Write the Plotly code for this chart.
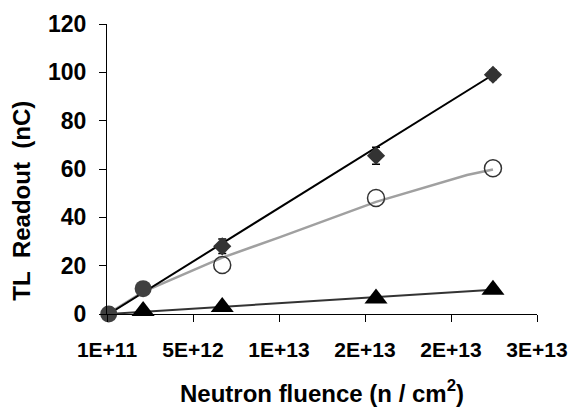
import plotly.graph_objects as go

# ---- data ----
fluence_diamond = [6.8e12, 1.574e13, 2.254e13]
tl_diamond = [28.0, 65.5, 99.0]
err_diamond = [3.0, 3.5, 2.0]

fluence_open = [6.8e12, 1.574e13, 2.254e13]
tl_open = [20.3, 48.0, 60.3]

fluence_tri = [2.2e12, 6.8e12, 1.574e13, 2.254e13]
tl_tri = [1.2, 2.9, 6.4, 10.0]

fluence_filled = [2e11, 2.2e12]
tl_filled = [0.0, 10.5]

# trend lines
black_trend_x = [2e11, 2.254e13]
black_trend_y = [0.0, 99.0]
tri_trend_x = [2e11, 2.254e13]
tri_trend_y = [0.0, 10.0]
gray_trend_x = [2e11, 2.2e12, 6.8e12, 1.016e13, 1.574e13, 1.847e13, 2.103e13, 2.254e13]
gray_trend_y = [0.3, 9.2, 23.3, 31.8, 46.4, 52.0, 57.5, 59.8]

x_tickvals = [1e11, 5.1e12, 1.01e13, 1.51e13, 2.01e13, 2.51e13]
x_ticktext = ["1E+11", "5E+12", "1E+13", "2E+13", "2E+13", "3E+13"]
y_tickvals = [0, 20, 40, 60, 80, 100, 120]

FONT = "Liberation Sans, Arial, sans-serif"

fig = go.Figure()

fig.add_trace(go.Scatter(x=gray_trend_x, y=gray_trend_y, mode="lines",
                         line=dict(color="#a0a0a0", width=2.5), showlegend=False))
fig.add_trace(go.Scatter(x=black_trend_x, y=black_trend_y, mode="lines",
                         line=dict(color="#000000", width=2), showlegend=False))
fig.add_trace(go.Scatter(x=tri_trend_x, y=tri_trend_y, mode="lines",
                         line=dict(color="#333333", width=2), showlegend=False))

fig.add_trace(go.Scatter(x=fluence_diamond, y=tl_diamond, mode="markers",
                         marker=dict(symbol="diamond", size=14, color="#333333"),
                         error_y=dict(type="data", array=err_diamond, color="#000000",
                                      thickness=1.5, width=4),
                         cliponaxis=False, showlegend=False))
fig.add_trace(go.Scatter(x=fluence_open, y=tl_open, mode="markers",
                         marker=dict(symbol="circle-open", size=17, color="#333333",
                                     line=dict(width=1.5, color="#333333")),
                         cliponaxis=False, showlegend=False))
fig.add_trace(go.Scatter(x=fluence_tri, y=tl_tri, mode="markers",
                         marker=dict(symbol="triangle-up", size=20, color="#000000"),
                         cliponaxis=False, showlegend=False))
fig.add_trace(go.Scatter(x=fluence_filled, y=tl_filled, mode="markers",
                         marker=dict(symbol="circle", size=17, color="#404040"),
                         cliponaxis=False, showlegend=False))

fig.update_layout(
    width=572, height=407,
    margin=dict(l=107, r=35, t=24, b=93),
    paper_bgcolor="white", plot_bgcolor="white",
    font=dict(family=FONT, color="black"),
    annotations=[dict(
        text="<b>TL\u00a0 Readout\u00a0 (nC)</b>", textangle=-90,
        xref="paper", yref="paper", x=-0.198, y=0.39,
        xanchor="center", yanchor="middle", showarrow=False,
        font=dict(family=FONT, size=24, color="black"),
    )],
)
fig.update_xaxes(
    range=[1e11, 2.51e13], tickvals=x_tickvals, ticktext=x_ticktext,
    showgrid=False, zeroline=False, showline=True, linecolor="black", linewidth=1,
    ticks="outside", ticklen=7, tickcolor="black", ticklabelstandoff=10,
    tickfont=dict(family=FONT, size=21, color="black", weight="bold"),
    automargin=False,
    title=dict(text="<b>Neutron fluence (n / cm<sup>2</sup>)</b>",
               font=dict(family=FONT, size=24, color="black"), standoff=24),
)
fig.update_yaxes(
    range=[0, 120], tickvals=y_tickvals,
    showgrid=False, zeroline=False, showline=True, linecolor="black", linewidth=1,
    ticks="outside", ticklen=7, tickcolor="black", ticklabelstandoff=8,
    tickfont=dict(family=FONT, size=23, color="black", weight="bold"),
    automargin=False,
)

fig.write_html("out.html", config={"displayModeBar": False},
               post_script="document.body.style.margin='0px';")
